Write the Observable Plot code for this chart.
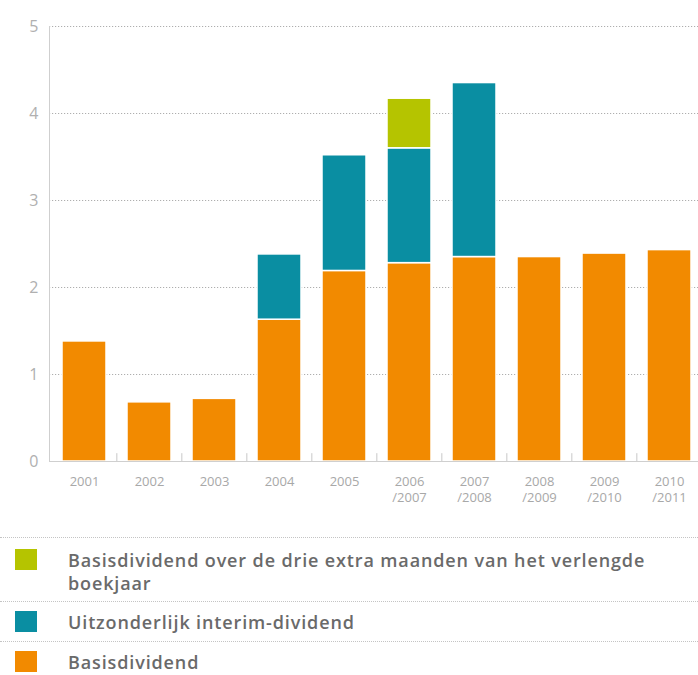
<!DOCTYPE html>
<html>
<head>
<meta charset="utf-8">
<script src="https://cdn.jsdelivr.net/npm/d3@7"></script>
<script src="https://cdn.jsdelivr.net/npm/@observablehq/plot@0.6"></script>
<style>
  html, body { margin: 0; padding: 0; background: #fff; }
  #chart svg { display: block; font-family: "Open Sans", sans-serif; }
  .legend { width: 698px; padding-top: 17px; font-family: "Open Sans", sans-serif; }
  .row { display: flex; align-items: flex-start; border-top: 1px dotted #c4c4c4; }
  .sw { width: 22px; height: 21px; margin-left: 15px; flex: none; }
  .lbl { margin-left: 31px; font-size: 18px; font-weight: 600; color: #6a6a6a; line-height: 23px; letter-spacing: 0.87px; }
</style>
</head>
<body>
<div id="chart"></div>
<div class="legend" id="legend"></div>
<script>
const categories = ["2001","2002","2003","2004","2005","2006\n/2007","2007\n/2008","2008\n/2009","2009\n/2010","2010\n/2011"];
const basisdividend = [1.38, 0.68, 0.72, 1.63, 2.19, 2.28, 2.35, 2.35, 2.39, 2.43];
const interimDividend = [0, 0, 0, 0.75, 1.33, 1.32, 2.00, 0, 0, 0];
const extraMaanden = [0, 0, 0, 0, 0, 0.57, 0, 0, 0, 0];
const seriesNames = ["Basisdividend", "Uitzonderlijk interim-dividend", "Basisdividend over de drie extra maanden van het verlengde boekjaar"];
const seriesColors = ["#f28a00", "#0a8ea2", "#b5c400"];
const yTicks = [0, 1, 2, 3, 4, 5];
const gridValues = [1, 2, 3, 4, 5];

const seriesValues = [basisdividend, interimDividend, extraMaanden];
const data = [];
seriesNames.forEach((s, i) => {
  categories.forEach((c, j) => {
    if (seriesValues[i][j] > 0) data.push({cat: c, series: s, value: seriesValues[i][j]});
  });
});

const W = 698, H = 520, mL = 49;
const xRange = [mL, 703];
const step = (xRange[1] - xRange[0]) / (categories.length - 0.33 + 2 * 0.17);

const chart = Plot.plot({
  width: W,
  height: H,
  marginTop: 26,
  marginBottom: 59,
  marginLeft: mL,
  marginRight: 0,
  x: {domain: categories, range: xRange, paddingInner: 0.33, paddingOuter: 0.17, label: null},
  y: {domain: [0, 5], label: null},
  color: {domain: seriesNames, range: seriesColors},
  marks: [
    Plot.gridY(gridValues, {stroke: "#9a9a9a", strokeOpacity: 0.8, strokeDasharray: "1.2,1.8", strokeWidth: 1}),
    Plot.barY(data, {x: "cat", y: "value", fill: "series", order: seriesNames, stroke: "white", strokeWidth: 1.5}),
    Plot.ruleY([0], {stroke: "#cfcfcf", strokeWidth: 1}),
    Plot.ruleX(categories.slice(1), {x: d => d, dx: -step / 2, y1: 0, y2: 0.09, stroke: "#c8c8c8", strokeWidth: 1}),
    Plot.frame({anchor: "left", stroke: "#cfcfcf"}),
    Plot.axisY({ticks: yTicks, tickFormat: "d", tickSize: 0, tickPadding: 11, fontSize: 16, fill: "#b0b0b0", label: null}),
    Plot.axisX({tickSize: 0, tickPadding: 13, fontSize: 13, lineHeight: 1.25, fill: "#a8a8a8", label: null})
  ]
});
document.getElementById("chart").appendChild(chart);

const legend = document.getElementById("legend");
const legendOrder = [2, 1, 0];
legendOrder.forEach((i, k) => {
  const row = document.createElement("div");
  row.className = "row";
  row.style.paddingTop = k === 0 ? "11px" : "9px";
  row.style.paddingBottom = k === 0 ? "6px" : "7px";
  const sw = document.createElement("div");
  sw.className = "sw";
  sw.style.background = seriesColors[i];
  const lbl = document.createElement("div");
  lbl.className = "lbl";
  lbl.innerHTML = i === 2 ? "Basisdividend over de drie extra maanden van het verlengde<br>boekjaar" : seriesNames[i];
  row.appendChild(sw);
  row.appendChild(lbl);
  legend.appendChild(row);
});
</script>
</body>
</html>
